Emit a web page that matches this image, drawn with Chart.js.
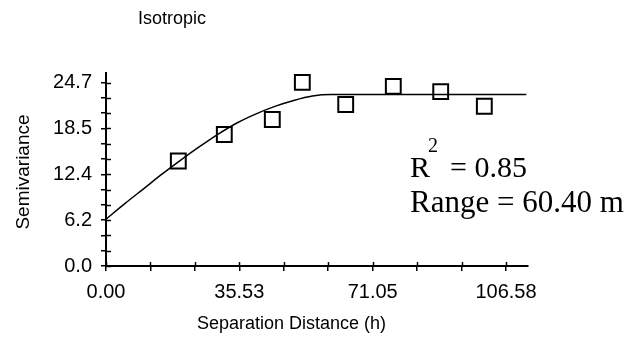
<!DOCTYPE html>
<html>
<head>
<meta charset="utf-8">
<script src="https://cdn.jsdelivr.net/npm/chart.js@4/dist/chart.umd.min.js"></script>
<style>
html,body{margin:0;padding:0;background:#fff;}
#wrap{width:631px;height:345px;position:relative;}
</style>
</head>
<body>
<div id="wrap"><canvas id="c" width="631" height="345"></canvas></div>
<script>
// ---- data ----
const lagDistance  = [19.27, 31.52, 44.31, 52.31, 63.87, 76.55, 89.18, 100.8];
const semivariance = [14.14, 17.72, 19.73, 24.74, 21.75, 24.20, 23.49, 21.52];
const modelDistance = [0, 5, 10, 15, 20, 25, 30, 35, 40, 45, 50, 55, 60, 112];
const modelValue    = [6.3, 8.4, 10.4, 12.4, 14.3, 16.1, 17.8, 19.3, 20.5, 21.5, 22.3, 22.9, 23.1, 23.1];
const xTickLabels = ['0.00', '35.53', '71.05', '106.58'];
const yTickLabels = ['0.0', '6.2', '12.4', '18.5', '24.7'];
const xLastLabelValue = 106.58, xDivisions = 9;
const yLastLabelValue = 24.7, yDivisions = 12;
const titleText = 'Isotropic';
const xTitle = 'Separation Distance (h)';
const yTitle = 'Semivariance';
const r2Text = '0.85';
const rangeText = 'Range = 60.40 m';

const SANS = '"Liberation Sans", Arial, sans-serif';
const SERIF = '"Liberation Serif", "Times New Roman", serif';

const textPlugin = {
  id: 'texts',
  afterDraw(chart) {
    const ctx = chart.ctx;
    const xs = chart.scales.x, ys = chart.scales.y;
    ctx.save();
    // inner halves of the cross ticks
    ctx.strokeStyle = '#000';
    ctx.lineWidth = 1.5;
    const ax = xs.left, ay = ys.bottom;
    ys.ticks.forEach(t => {
      const p = Math.round(ys.getPixelForValue(t.value)) + 0.5;
      ctx.beginPath(); ctx.moveTo(ax, p); ctx.lineTo(ax + 5, p); ctx.stroke();
    });
    xs.ticks.forEach(t => {
      const p = Math.round(xs.getPixelForValue(t.value)) + 0.5;
      ctx.beginPath(); ctx.moveTo(p, ay); ctx.lineTo(p, ay - 4); ctx.stroke();
    });
    ctx.fillStyle = '#000';
    // title
    ctx.font = '18px ' + SANS;
    ctx.textAlign = 'left'; ctx.textBaseline = 'alphabetic';
    ctx.fillText(titleText, 138, 24);
    // x title
    ctx.fillText(xTitle, 197, 329);
    // y title
    ctx.save();
    ctx.translate(29, 172);
    ctx.rotate(-Math.PI / 2);
    ctx.textAlign = 'center';
    ctx.font = '19px ' + SANS;
    ctx.fillText(yTitle, 0, 0);
    ctx.restore();
    // R^2 annotation
    ctx.font = '30px ' + SERIF;
    ctx.fillText('R', 410, 177);
    ctx.fillText('= ' + r2Text, 450, 177);
    ctx.font = '20px ' + SERIF;
    ctx.fillText('2', 428, 152);
    ctx.font = '31px ' + SERIF;
    ctx.fillText(rangeText, 410, 212);
    ctx.restore();
  }
};

new Chart(document.getElementById('c'), {
  type: 'scatter',
  data: {
    datasets: [
      {
        type: 'line',
        data: modelDistance.map((x, i) => ({x, y: modelValue[i]})),
        borderColor: '#000',
        borderWidth: 1.5,
        pointRadius: 0,
        fill: false,
        cubicInterpolationMode: 'monotone'
      },
      {
        data: lagDistance.map((x, i) => ({x, y: semivariance[i]})),
        pointStyle: 'rect',
        pointRadius: 10.5,
        pointBorderWidth: 2,
        pointBorderColor: '#000',
        pointBackgroundColor: 'rgba(0,0,0,0)'
      }
    ]
  },
  options: {
    responsive: false,
    animation: false,
    events: [],
    layout: { padding: { left: 0, top: 73, right: 103, bottom: 0 } },
    plugins: { legend: { display: false }, tooltip: { enabled: false } },
    scales: {
      x: {
        type: 'linear',
        min: 0, max: 112.44,
        border: { display: true, color: '#000', width: 2 },
        grid: { drawOnChartArea: false, drawTicks: true, tickLength: 5, color: '#000', lineWidth: 1.5 },
        afterBuildTicks(scale) {
          const step = xLastLabelValue / xDivisions;
          const t = [];
          for (let k = 0; k <= xDivisions; k++) t.push({ value: k * step });
          scale.ticks = t;
        },
        ticks: {
          autoSkip: false,
          maxRotation: 0,
          color: '#000',
          font: { family: SANS, size: 20 },
          padding: 9,
          callback: (v, i) => (i % 3 === 0 ? xTickLabels[i / 3] : '')
        },
        afterFit(scale) { scale.height = 345 - 266; }
      },
      y: {
        type: 'linear',
        min: 0, max: 26.0,
        border: { display: true, color: '#000', width: 2 },
        grid: { drawOnChartArea: false, drawTicks: true, tickLength: 5, color: '#000', lineWidth: 1.5 },
        afterBuildTicks(scale) {
          const step = yLastLabelValue / yDivisions;
          const t = [];
          for (let k = 0; k <= yDivisions; k++) t.push({ value: k * step });
          scale.ticks = t;
        },
        ticks: {
          autoSkip: false,
          color: '#000',
          font: { family: SANS, size: 20 },
          padding: 9,
          callback: (v, i) => (i % 3 === 0 ? yTickLabels[i / 3] : '')
        },
        afterFit(scale) { scale.width = 106; }
      }
    }
  },
  plugins: [textPlugin]
});
</script>
</body>
</html>
